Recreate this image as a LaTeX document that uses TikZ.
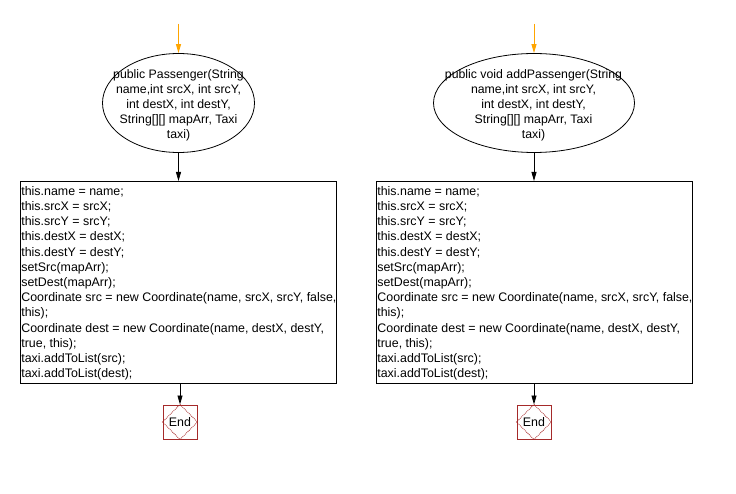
\documentclass[tikz,border=0pt]{standalone}
\usepackage{fontspec}
\setmainfont{Liberation Sans}
\usetikzlibrary{arrows.meta,shapes.geometric}
\definecolor{endred}{RGB}{165,42,42}
\definecolor{startor}{RGB}{255,165,0}
\begin{document}
\begin{tikzpicture}[x=1pt,y=-1pt,line width=0.8pt,
  startell/.style={draw,ellipse,inner sep=0pt},
  codebox/.style={draw,anchor=north west,inner sep=0pt},
  codetext/.style={anchor=north west,align=left,inner sep=0pt,font=\fontsize{12.4}{15.2}\selectfont},
  elltext/.style={align=center,inner sep=0pt,font=\fontsize{12.3}{15}\selectfont},
  endbox/.style={draw=endred,line width=1pt,minimum width=34pt,minimum height=34pt,inner sep=0pt},
  flow/.style={-{Triangle[width=5pt,length=9pt]}},
  startflow/.style={-{Triangle[width=5pt,length=9pt]},line width=1pt,draw=startor,fill=startor}]
\useasboundingbox (0,0) rectangle (736,494);
% left chart
\coordinate (ls) at (178.5,24);
\node[startell,minimum width=152pt,minimum height=99pt] (le) at (178.5,103) {};
\node[elltext] at (178.5,105) {public Passenger(String\\name,int srcX, int srcY,\\int destX, int destY,\\String[][] mapArr, Taxi\\taxi)};
\draw[startflow] (ls) -- (le.north);
\node[codebox,minimum width=316pt,minimum height=202pt] (lb) at (20,181) {};
\node[codetext] at (21,186) {this.name = name;\\this.srcX = srcX;\\this.srcY = srcY;\\this.destX = destX;\\this.destY = destY;\\setSrc(mapArr);\\setDest(mapArr);\\Coordinate src = new Coordinate(name, srcX, srcY, false,\\this);\\Coordinate dest = new Coordinate(name, destX, destY,\\true, this);\\taxi.addToList(src);\\taxi.addToList(dest);};
\draw[flow] (le.south) -- (le.south |- lb.north);
\node[endbox] (lend) at (180,422) {};
\draw[endred,densely dotted] (lend.north) -- (lend.east) -- (lend.south) -- (lend.west) -- cycle;
\node[font=\fontsize{12.4}{14}\selectfont] at (lend) {End};
\draw[flow] (lend.north |- lb.south) -- (lend.north);
% right chart
\coordinate (rs) at (534,24);
\node[startell,minimum width=201pt,minimum height=99pt] (re) at (534,103) {};
\node[elltext] at (533.5,105) {public void addPassenger(String\\name,int srcX, int srcY,\\int destX, int destY,\\String[][] mapArr, Taxi\\taxi)};
\draw[startflow] (rs) -- (re.north);
\node[codebox,minimum width=316pt,minimum height=202pt] (rb) at (376,181) {};
\node[codetext] at (377,186) {this.name = name;\\this.srcX = srcX;\\this.srcY = srcY;\\this.destX = destX;\\this.destY = destY;\\setSrc(mapArr);\\setDest(mapArr);\\Coordinate src = new Coordinate(name, srcX, srcY, false,\\this);\\Coordinate dest = new Coordinate(name, destX, destY,\\true, this);\\taxi.addToList(src);\\taxi.addToList(dest);};
\draw[flow] (re.south) -- (re.south |- rb.north);
\node[endbox] (rend) at (534,422) {};
\draw[endred,densely dotted] (rend.north) -- (rend.east) -- (rend.south) -- (rend.west) -- cycle;
\node[font=\fontsize{12.4}{14}\selectfont] at (rend) {End};
\draw[flow] (rend.north |- rb.south) -- (rend.north);
\end{tikzpicture}
\end{document}
